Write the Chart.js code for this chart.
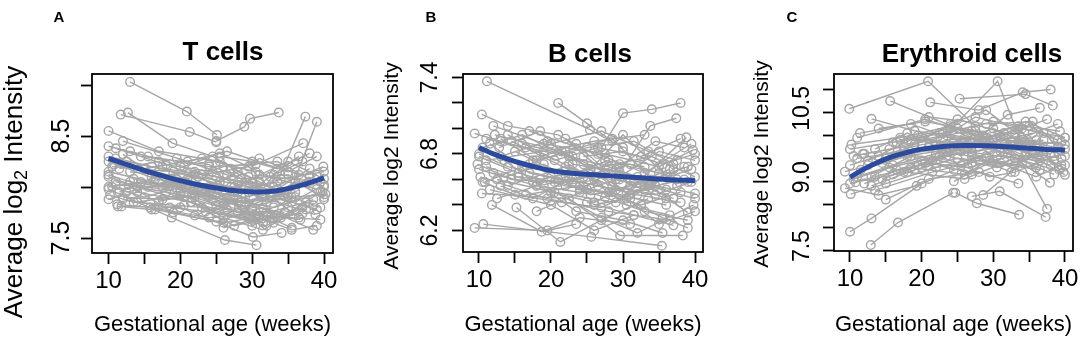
<!DOCTYPE html>
<html>
<head>
<meta charset="utf-8">
<script src="https://cdn.jsdelivr.net/npm/chart.js@4.4.0/dist/chart.umd.min.js"></script>
<style>
  html, body { margin: 0; padding: 0; background: #fff; }
  #wrap { position: relative; width: 1084px; height: 342px; overflow: hidden; }
  canvas { position: absolute; top: 0; }
</style>
</head>
<body>
<div id="wrap">
  <canvas id="chartA" width="361" height="342" style="left:0px"></canvas>
  <canvas id="chartB" width="361" height="342" style="left:361px"></canvas>
  <canvas id="chartC" width="362" height="342" style="left:722px"></canvas>
</div>
<script>
// Shared x axis (gestational age, weeks)
const weekTicks = [10, 15, 20, 25, 30, 35, 40];
const weekLabels = [10, 20, 30, 40];

// Panel A - T cells
const tTicks = [7.5, 8.0, 8.5, 9.0];
const tLabels = [7.5, 8.5];
const tSmoothWeeks = [10, 13, 16, 19, 22, 25, 28, 31, 34, 37, 40];
const tSmoothVals = [8.28, 8.21, 8.14, 8.08, 8.03, 7.99, 7.96, 7.95, 7.97, 8.02, 8.09];
const tWeeks = [
  [13.0, 20.9, 25.1], [25.0, 28.9, 29.7, 33.7], [11.7, 21.3, 25.0], [12.7, 18.9, 24.5, 29.5],
  [10.0, 17.0, 25.5, 31.0], [28.0, 33.5, 37.4], [30.0, 35.0, 39.0], [10.0, 15.5, 24.0, 30.5, 37.1],
  [10.0, 18.8, 26.2, 30.6], [11.8, 20.0, 30.1, 34.1], [11.2, 15.8, 24.0, 32.0], [10.0, 14.0, 22.0, 28.0, 36.7],
  [10.5, 19.0, 27.0, 38.8], [10.0, 16.0, 25.0, 33.0, 39.9], [11.0, 20.0, 28.5, 40.2], [12.0, 21.0, 26.5, 35.0, 39.0],
  [10.2, 13.5, 23.0, 31.5], [12.5, 22.5, 27.5, 36.0], [10.0, 18.0, 29.0, 38.0], [11.5, 16.5, 26.0, 34.5],
  [13.0, 20.5, 25.5, 32.5, 39.5], [14.0, 21.5, 29.5, 37.5], [15.0, 24.5, 31.0, 36.5], [10.8, 19.5, 27.0, 33.0, 39.8],
  [12.0, 17.5, 24.0, 30.0, 35.5], [16.0, 22.0, 28.0, 34.0], [18.0, 25.0, 32.0, 38.5], [20.5, 27.5, 35.0, 40.0],
  [10.0, 14.5, 23.5, 29.0, 36.0], [21.5, 26.0, 31.5, 37.0], [23.0, 29.5, 34.0, 39.0], [11.0, 22.0, 30.5, 36.5],
  [19.5, 26.5, 33.5, 38.0], [12.8, 19.0, 26.0, 32.0], [17.0, 23.5, 31.0, 39.5], [14.5, 24.0, 28.5, 35.0, 40.0],
  [25.5, 30.0, 33.5, 38.0], [26.0, 31.0, 35.5, 39.0], [11.3, 16.0, 20.5], [27.0, 32.5, 36.0, 40.0],
  [10.0, 13.0, 20.0, 26.0, 31.5], [10.5, 15.0, 21.0, 27.0, 33.0, 38.5], [11.5, 17.0, 22.5, 28.5, 34.5], [12.0, 18.5, 23.5, 30.0, 37.0],
  [13.5, 19.5, 25.5, 31.0, 39.0], [10.0, 16.5, 22.5, 29.5, 35.5, 40.0], [14.0, 20.0, 26.5, 33.0, 37.5], [11.0, 18.0, 24.5, 32.0, 38.0],
  [15.5, 22.0, 27.5, 34.0, 40.0], [12.5, 19.0, 25.0, 30.5, 36.0], [17.5, 23.0, 28.0, 35.5, 39.5], [10.0, 14.0, 21.5, 27.5, 32.5],
  [18.5, 24.5, 30.0, 36.5], [13.0, 21.0, 29.0, 34.5, 39.0], [16.5, 25.0, 31.5, 38.5], [11.0, 17.5, 26.0, 33.5, 40.0],
  [20.0, 25.5, 30.0, 35.0], [22.0, 28.5, 34.0, 39.5], [24.0, 29.0, 33.0, 37.0], [12.0, 15.0, 23.0, 30.5]
];
const tVals = [
  [9.03, 8.74, 8.51], [8.45, 8.59, 8.67, 8.73], [8.71, 8.54, 8.44], [8.73, 8.43, 8.30, 8.10],
  [8.55, 8.35, 8.25, 8.05], [7.95, 8.05, 8.69], [7.80, 7.90, 8.64], [8.40, 8.30, 8.20, 8.22, 8.43],
  [7.98, 7.70, 7.48, 7.43], [7.81, 7.80, 7.51, 7.55], [7.83, 7.80, 7.70, 7.75], [8.10, 8.00, 7.90, 7.75, 7.68],
  [8.20, 8.15, 8.00, 7.73], [8.30, 8.20, 8.10, 8.00, 8.20], [8.05, 7.95, 7.85, 7.93], [8.45, 8.25, 8.35, 8.15, 8.30],
  [7.92, 7.85, 7.80, 7.65], [8.25, 8.10, 7.95, 8.00], [8.15, 8.02, 7.90, 8.05], [7.95, 8.10, 7.85, 7.75],
  [8.35, 8.20, 8.33, 8.10, 8.05], [8.00, 7.85, 7.70, 7.85], [8.18, 8.00, 8.28, 8.12], [8.22, 8.08, 7.88, 7.80, 7.95],
  [7.90, 7.88, 7.92, 7.78, 7.60], [8.10, 8.15, 8.05, 7.95], [7.95, 7.75, 7.62, 7.88], [8.05, 8.00, 8.25, 8.08],
  [8.00, 8.05, 7.98, 7.85, 7.95], [7.90, 7.70, 7.58, 7.80], [8.12, 8.20, 7.88, 7.78], [8.28, 7.92, 8.00, 8.30],
  [8.28, 8.12, 7.98, 8.18], [8.02, 7.75, 7.65, 7.72], [7.86, 7.95, 7.72, 7.68], [8.30, 8.22, 8.08, 8.12, 7.88],
  [8.30, 8.25, 8.18, 8.33], [7.60, 7.70, 7.58, 7.62], [7.81, 7.78, 7.82], [8.18, 7.90, 8.05, 7.90],
  [8.12, 8.05, 7.98, 7.82, 7.90], [8.00, 7.90, 8.02, 7.80, 7.70, 7.82], [8.18, 8.25, 8.10, 8.02, 7.92], [7.88, 7.80, 7.76, 7.68, 7.74],
  [8.08, 7.98, 7.90, 8.12, 7.98], [8.25, 8.08, 8.00, 7.95, 7.85, 8.02], [7.85, 7.92, 7.78, 7.65, 7.78], [8.38, 8.22, 8.15, 7.85, 8.10],
  [8.00, 8.12, 7.92, 8.08, 8.15], [7.95, 8.05, 7.82, 7.72, 7.90], [8.20, 7.98, 8.15, 7.90, 7.80], [7.88, 7.95, 7.85, 7.62, 7.70],
  [8.05, 7.88, 8.05, 7.70], [8.15, 8.08, 7.80, 7.95, 8.12], [7.78, 7.66, 7.80, 7.58], [8.02, 8.00, 8.20, 8.25, 8.00],
  [8.20, 8.05, 7.62, 7.80], [7.72, 7.90, 7.70, 7.95], [8.00, 7.75, 8.12, 8.25], [8.32, 8.18, 8.28, 8.15]
];

// Panel B - B cells
const bTicks = [6.2, 6.4, 6.6, 6.8, 7.0, 7.2, 7.4];
const bLabels = [6.2, 6.8, 7.4];
const bSmoothWeeks = [10, 12, 14, 16, 18, 20, 22, 25, 28, 32, 36, 40];
const bSmoothVals = [6.85, 6.80, 6.76, 6.725, 6.695, 6.67, 6.655, 6.64, 6.63, 6.615, 6.60, 6.59];
const bWeeks = [
  [11.1, 25.4, 30.0], [21.0, 25.0, 28.5], [27.0, 30.0, 34.0, 38.0], [29.0, 33.8, 37.4],
  [10.4, 14.0, 21.0, 27.5, 33.0], [9.4, 13.0, 19.0, 26.0], [9.4, 19.5, 23.5], [10.6, 25.6, 35.4],
  [10.4, 22.5, 29.6, 38.3], [11.8, 18.7, 24.0, 31.0], [15.2, 21.3, 27.0, 33.5], [10.0, 15.5, 22.0, 28.0, 36.0],
  [10.5, 16.0, 24.5, 32.0, 39.0], [11.0, 17.5, 26.0, 34.5, 40.0], [12.0, 19.0, 27.5, 35.0, 39.7], [12.5, 20.5, 29.0, 38.8],
  [13.0, 18.0, 25.0, 31.5, 37.0], [14.0, 22.0, 30.5, 38.5], [10.2, 19.5, 28.0, 36.5], [15.0, 23.0, 31.0, 39.0],
  [16.5, 24.0, 32.5, 38.0], [17.0, 26.5, 33.0, 39.5], [11.5, 20.0, 26.0, 31.5], [13.5, 23.5, 30.0, 35.5],
  [18.5, 25.5, 34.0, 40.0], [20.0, 27.0, 33.5, 37.5], [22.5, 28.5, 35.5, 39.0], [12.2, 21.5, 29.5, 36.0],
  [24.0, 29.0, 34.5, 38.5], [19.0, 27.0, 32.0, 39.8], [10.8, 17.0, 25.5, 33.0], [14.5, 24.5, 30.0, 37.5],
  [21.0, 28.0, 31.0, 36.5], [26.0, 30.5, 35.0, 40.0], [12.8, 18.5, 23.0, 29.5], [16.0, 22.0, 28.5, 34.0, 39.0],
  [25.0, 31.5, 37.0], [9.8, 14.5, 20.5],
  [10.0, 14.0, 20.0, 26.5, 32.0, 38.0], [11.0, 16.5, 22.5, 28.0, 34.0, 39.5], [12.0, 18.0, 24.0, 30.0, 36.0], [13.0, 19.5, 25.5, 31.0, 37.5],
  [10.5, 15.0, 21.5, 27.0, 33.5, 40.0], [14.0, 20.5, 26.5, 32.5, 38.0], [11.5, 17.0, 23.0, 29.5, 35.0], [15.5, 21.0, 27.5, 33.0, 39.0],
  [12.5, 18.0, 25.0, 30.5, 36.5], [17.5, 23.5, 29.0, 35.0, 40.0], [10.0, 13.5, 19.0, 24.5], [20.0, 26.0, 31.5, 37.0],
  [22.0, 27.5, 33.0, 38.5], [16.0, 23.0, 28.5, 34.5, 39.5], [13.0, 17.5, 22.5, 29.0, 36.0], [24.5, 30.0, 35.5, 40.0],
  [11.0, 19.0, 26.0, 33.0], [18.0, 25.0, 31.0, 37.0]
];
const bVals = [
  [7.37, 6.99, 6.85], [7.20, 7.04, 6.90], [6.85, 7.12, 7.15, 7.20], [6.60, 7.02, 7.08],
  [7.11, 7.02, 6.95, 6.75, 6.70], [6.96, 6.90, 6.80, 6.60], [6.22, 6.20, 6.25], [6.25, 6.15, 6.08],
  [6.49, 6.45, 6.16, 6.16], [6.40, 6.19, 6.30, 6.25], [6.38, 6.11, 6.28, 6.45], [6.78, 6.65, 6.55, 6.50, 6.40],
  [6.85, 6.95, 6.72, 6.62, 6.34], [6.70, 6.58, 6.62, 6.55, 6.49], [7.02, 6.88, 6.80, 6.70, 6.83], [6.60, 6.50, 6.42, 6.93],
  [6.92, 6.75, 6.85, 6.90, 6.72], [6.55, 6.70, 6.50, 6.60], [6.62, 6.45, 6.35, 6.28], [6.82, 6.60, 6.72, 6.58],
  [6.48, 6.55, 6.40, 6.50], [6.98, 6.80, 6.65, 6.88], [6.52, 6.40, 6.20, 6.32], [6.75, 6.35, 6.28, 6.18],
  [6.60, 6.68, 6.78, 6.62], [6.88, 6.98, 6.82, 6.75], [6.72, 6.50, 6.30, 6.22], [6.95, 6.82, 6.60, 6.45],
  [6.52, 6.68, 6.90, 6.85], [6.55, 6.30, 6.18, 6.40], [6.58, 6.72, 6.48, 6.55], [6.90, 6.62, 6.95, 6.55],
  [6.60, 6.75, 6.55, 6.68], [6.40, 6.45, 6.25, 6.35], [6.85, 6.98, 6.72, 6.66], [6.70, 6.82, 6.92, 6.60, 6.70],
  [6.42, 6.32, 6.24], [6.72, 6.60, 6.58],
  [6.80, 6.70, 6.62, 6.55, 6.48, 6.42], [6.92, 6.85, 6.78, 6.70, 6.58, 6.68], [6.65, 6.55, 6.50, 6.62, 6.52], [6.78, 6.90, 6.68, 6.48, 6.60],
  [6.58, 6.48, 6.42, 6.38, 6.55, 6.45], [6.95, 6.75, 6.85, 6.78, 6.92], [6.88, 6.65, 6.58, 6.72, 6.65], [6.62, 6.58, 6.46, 6.35, 6.28],
  [6.45, 6.55, 6.62, 6.40, 6.32], [6.75, 6.88, 6.60, 6.82, 6.75], [6.68, 6.62, 6.72, 6.55], [6.50, 6.42, 6.58, 6.45],
  [6.92, 6.65, 6.52, 6.70], [6.88, 6.78, 6.55, 6.48, 6.58], [6.55, 6.45, 6.60, 6.52, 6.62], [6.78, 6.82, 6.72, 6.80],
  [6.75, 6.82, 6.90, 6.95], [6.35, 6.52, 6.45, 6.68]
];

// Panel C - Erythroid cells
const eTicks = [7.5, 8.0, 8.5, 9.0, 9.5, 10.0, 10.5, 11.0];
const eLabels = [7.5, 9.0, 10.5];
const eSmoothWeeks = [10, 12, 14, 16, 18, 20, 23, 26, 30, 34, 37, 40];
const eSmoothVals = [9.09, 9.27, 9.42, 9.54, 9.63, 9.70, 9.76, 9.78, 9.77, 9.73, 9.70, 9.68];
const eWeeks = [
  [9.9, 20.9, 27.5], [15.6, 25.0, 30.0], [22.0, 30.6, 34.5], [21.2, 28.0, 34.1, 38.0],
  [25.3, 34.5, 38.3], [10.0, 13.0, 20.0], [12.9, 16.7, 24.4], [24.7, 27.7, 33.6],
  [27.0, 30.9, 37.3], [28.6, 34.0, 37.5], [13.0, 19.0, 26.0, 33.0], [9.3, 14.0, 19.3, 27.0],
  [10.1, 15.0, 22.0, 29.0], [10.2, 17.0, 24.0, 31.0, 40.0], [10.0, 16.0, 23.0, 30.0, 39.3], [11.4, 18.5, 26.5, 33.5, 39.2],
  [9.3, 14.5, 21.0, 28.5, 37.9], [10.5, 15.5, 22.5, 29.5, 36.0], [11.0, 17.5, 25.5, 32.0, 38.5], [12.0, 20.0, 27.0, 35.0, 40.0],
  [12.5, 19.0, 25.0, 31.5], [13.5, 21.5, 28.0, 36.5], [14.0, 20.5, 27.5, 34.0, 39.5], [16.0, 23.5, 30.5, 37.0],
  [17.0, 24.0, 31.0, 38.0], [18.0, 25.5, 32.5, 39.0], [10.8, 18.0, 26.0, 33.0, 39.8], [19.5, 26.0, 32.0, 36.5],
  [20.0, 28.5, 34.5, 40.0], [21.0, 29.0, 35.5, 39.0], [22.5, 29.5, 33.0, 38.5], [23.0, 27.5, 34.0, 40.0],
  [11.8, 16.5, 22.0, 27.0], [24.5, 30.0, 36.0, 39.5], [26.5, 31.5, 35.0, 38.5], [13.0, 18.5, 24.5],
  [15.0, 21.0, 28.0, 33.5], [27.0, 32.5, 37.0],
  [10.0, 14.0, 20.0, 26.0, 32.0, 38.0], [11.0, 16.0, 22.0, 28.0, 34.0, 40.0], [12.0, 17.5, 23.5, 29.5, 35.5], [13.0, 19.0, 25.0, 31.0, 37.0],
  [10.5, 15.5, 21.5, 27.0, 33.5, 39.0], [14.5, 20.5, 26.5, 32.5, 38.5], [11.5, 18.0, 24.0, 30.5, 36.5], [16.5, 22.5, 28.5, 34.5, 40.0],
  [12.5, 18.5, 24.5, 30.0, 35.0], [17.5, 23.0, 29.0, 35.5, 39.5], [10.0, 13.5, 19.5, 25.5], [20.0, 27.0, 33.0, 38.0],
  [21.5, 28.0, 33.5, 39.0], [15.0, 22.0, 29.5, 36.0], [13.5, 18.0, 23.5, 30.5, 37.5], [24.0, 29.0, 34.0, 40.0],
  [11.0, 20.5, 27.5, 34.5], [18.5, 26.0, 31.5, 37.0]
];
const eVals = [
  [10.58, 11.18, 10.20], [10.75, 10.15, 9.90], [9.80, 11.18, 9.60], [10.72, 10.55, 10.94, 11.00],
  [10.80, 10.90, 10.65], [7.90, 8.19, 8.95], [7.61, 8.10, 8.75], [8.75, 8.52, 8.27],
  [8.67, 8.78, 8.22], [8.70, 9.40, 8.40], [10.36, 10.10, 9.90, 10.05], [8.85, 8.70, 8.90, 9.40],
  [8.72, 8.95, 9.30, 9.55], [9.80, 9.95, 10.20, 9.95, 9.14], [9.70, 9.85, 10.05, 10.30, 10.09], [10.05, 10.25, 9.80, 10.15, 9.25],
  [9.21, 9.40, 9.75, 10.00, 8.97], [9.05, 9.30, 9.55, 9.70, 9.90], [9.50, 9.65, 9.85, 9.60, 9.45], [8.95, 9.45, 9.65, 9.85, 9.70],
  [9.35, 9.80, 10.35, 10.05], [8.80, 9.20, 9.45, 9.25], [10.15, 10.30, 10.10, 9.80, 9.85], [9.15, 9.55, 9.30, 9.60],
  [9.90, 10.15, 9.65, 9.35], [9.60, 9.35, 9.85, 10.25], [8.98, 9.20, 9.05, 9.50, 9.20], [10.00, 9.70, 10.45, 10.60],
  [9.30, 9.95, 9.55, 9.35], [10.40, 10.25, 10.30, 9.75], [9.55, 9.10, 9.20, 9.55], [9.95, 10.40, 10.15, 9.95],
  [9.60, 9.25, 9.40, 9.15], [9.00, 9.45, 9.10, 9.35], [9.75, 9.90, 10.20, 9.95], [9.10, 9.55, 9.25],
  [8.60, 9.05, 9.20, 8.95], [9.55, 9.20, 10.05],
  [9.35, 9.55, 9.80, 9.95, 9.70, 9.60], [9.10, 9.35, 9.60, 9.75, 9.90, 9.80], [9.60, 9.75, 10.00, 9.85, 10.05], [8.90, 9.25, 9.50, 9.40, 9.65],
  [9.55, 9.70, 9.95, 10.10, 9.85, 9.65], [9.05, 9.40, 9.30, 9.55, 9.15], [9.25, 9.55, 9.70, 9.55, 9.45], [9.85, 10.05, 9.90, 10.30, 9.95],
  [9.45, 9.90, 9.85, 10.15, 9.80], [9.20, 9.60, 9.85, 9.60, 9.50], [8.95, 9.10, 9.35, 9.65], [9.95, 9.60, 9.35, 9.75],
  [9.45, 10.00, 10.20, 9.90], [9.50, 9.70, 9.45, 9.30], [9.70, 10.05, 9.65, 9.95, 10.35], [10.25, 10.55, 9.95, 9.55],
  [9.95, 10.35, 10.00, 9.80], [9.30, 9.15, 9.65, 9.90]
];

const FONT = '"Liberation Sans", Arial, Helvetica, sans-serif';
const GRAY = '#a6a6a6';
const BLUE = '#2c4b9f';

// Panel layout (canvas-local pixels)
const panels = [
  {
    id: 'chartA', letter: 'A', title: 'T cells', sub: true,
    weeks: tWeeks, vals: tVals, smoothWeeks: tSmoothWeeks, smoothVals: tSmoothVals,
    yTicks: tTicks, yLabels: tLabels,
    xMin: 7.70, xMax: 41.25, yMin: 7.353, yMax: 9.108,
    padRight: 28, yAxisW: 92, xAxisH: 89, yPad: 2, yLabelOffset: 0, yTickSize: 25,
    letterPos: [59, 18], titlePos: [223, 53], yTitlePos: [15, 192], yTitleSize: 26
  },
  {
    id: 'chartB', letter: 'B', title: 'B cells', sub: false,
    weeks: bWeeks, vals: bVals, smoothWeeks: bSmoothWeeks, smoothVals: bSmoothVals,
    yTicks: bTicks, yLabels: bLabels,
    xMin: 7.78, xMax: 41.11, yMin: 6.031, yMax: 7.427,
    padRight: 19, yAxisW: 102, xAxisH: 90, yPad: 5, yLabelOffset: 0, yTickSize: 23,
    letterPos: [70, 18], titlePos: [229, 55], yTitlePos: [31, 166], yTitleSize: 21
  },
  {
    id: 'chartC', letter: 'C', title: 'Erythroid cells', sub: false,
    weeks: eWeeks, vals: eVals, smoothWeeks: eSmoothWeeks, smoothVals: eSmoothVals,
    yTicks: eTicks, yLabels: eLabels,
    xMin: 7.77, xMax: 41.12, yMin: 7.48, yMax: 11.338,
    padRight: 11, yAxisW: 112, xAxisH: 91, yPad: -2, yLabelOffset: -4, yTickSize: 23,
    letterPos: [70, 18], titlePos: [250, 55], yTitlePos: [40, 164], yTitleSize: 21
  }
];

// Full box around the plot region
const boxPlugin = {
  id: 'plotBox',
  afterDatasetsDraw(chart) {
    const { ctx, chartArea: a } = chart;
    ctx.save();
    ctx.strokeStyle = '#000';
    ctx.lineWidth = 1.8;
    ctx.strokeRect(a.left, a.top, a.right - a.left, a.bottom - a.top);
    ctx.restore();
  }
};

function drawYTitle(ctx, p) {
  const size = p.yTitleSize;
  const big = size + 'px ' + FONT;
  const small = Math.round(size * 0.68) + 'px ' + FONT;
  const parts = p.sub
    ? [['Average log', big, 0], ['2', small, size * 0.28], [' Intensity', big, 0]]
    : [['Average log2 Intensity', big, 0]];
  ctx.save();
  ctx.translate(p.yTitlePos[0], p.yTitlePos[1]);
  ctx.rotate(-Math.PI / 2);
  ctx.fillStyle = '#000';
  ctx.textBaseline = 'middle';
  ctx.textAlign = 'left';
  let total = 0;
  parts.forEach(pt => { ctx.font = pt[1]; total += ctx.measureText(pt[0]).width; });
  let x = -total / 2;
  parts.forEach(pt => {
    ctx.font = pt[1];
    ctx.fillText(pt[0], x, pt[2]);
    x += ctx.measureText(pt[0]).width;
  });
  ctx.restore();
}

function textPlugin(p) {
  return {
    id: 'panelText',
    afterDraw(chart) {
      const ctx = chart.ctx;
      ctx.save();
      ctx.fillStyle = '#000';
      ctx.textAlign = 'center';
      ctx.textBaseline = 'middle';
      ctx.font = 'bold 15px ' + FONT;
      ctx.fillText(p.letter, p.letterPos[0], p.letterPos[1]);
      ctx.font = 'bold 26px ' + FONT;
      ctx.fillText(p.title, p.titlePos[0], p.titlePos[1]);
      ctx.restore();
      drawYTitle(ctx, p);
    }
  };
}

function buildChart(p) {
  const datasets = [{
    data: p.smoothWeeks.map((w, i) => ({ x: w, y: p.smoothVals[i] })),
    borderColor: BLUE,
    borderWidth: 5,
    pointRadius: 0,
    cubicInterpolationMode: 'monotone',
    order: -1
  }];
  p.weeks.forEach((ws, i) => {
    datasets.push({
      data: ws.map((w, j) => ({ x: w, y: p.vals[i][j] })),
      borderColor: GRAY,
      borderWidth: 1.4,
      pointRadius: 4.3,
      pointBorderWidth: 1.4,
      pointBorderColor: GRAY,
      pointBackgroundColor: 'rgba(0,0,0,0)',
      order: 1
    });
  });

  const tickGrid = {
    drawOnChartArea: false,
    drawTicks: true,
    tickLength: 11,
    tickWidth: 1.8,
    tickColor: '#000'
  };

  return new Chart(document.getElementById(p.id), {
    type: 'line',
    data: { datasets },
    options: {
      responsive: false,
      animation: false,
      events: [],
      layout: { padding: { left: 0, top: 74, right: p.padRight, bottom: 0 } },
      plugins: { legend: { display: false }, tooltip: { enabled: false } },
      scales: {
        x: {
          type: 'linear',
          min: p.xMin,
          max: p.xMax,
          afterBuildTicks: s => { s.ticks = weekTicks.map(v => ({ value: v })); },
          afterFit: s => { s.height = p.xAxisH; },
          grid: tickGrid,
          border: { display: false },
          ticks: {
            color: '#000',
            font: { family: FONT, size: 24 },
            padding: 3,
            maxRotation: 0,
            autoSkip: false,
            callback: v => weekLabels.includes(v) ? String(v) : ''
          },
          title: {
            display: true,
            text: 'Gestational age (weeks)',
            color: '#000',
            font: { family: FONT, size: 22 },
            padding: { top: 0, bottom: 4 }
          }
        },
        y: {
          type: 'linear',
          min: p.yMin,
          max: p.yMax,
          afterBuildTicks: s => { s.ticks = p.yTicks.map(v => ({ value: v })); },
          afterFit: s => { s.width = p.yAxisW; },
          grid: tickGrid,
          border: { display: false },
          ticks: {
            color: '#000',
            font: { family: FONT, size: p.yTickSize },
            padding: p.yPad,
            minRotation: 90,
            maxRotation: 90,
            crossAlign: 'center',
            labelOffset: p.yLabelOffset,
            autoSkip: false,
            callback: v => p.yLabels.includes(v) ? v.toFixed(1) : ''
          }
        }
      }
    },
    plugins: [boxPlugin, textPlugin(p)]
  });
}

panels.forEach(buildChart);
</script>
</body>
</html>
